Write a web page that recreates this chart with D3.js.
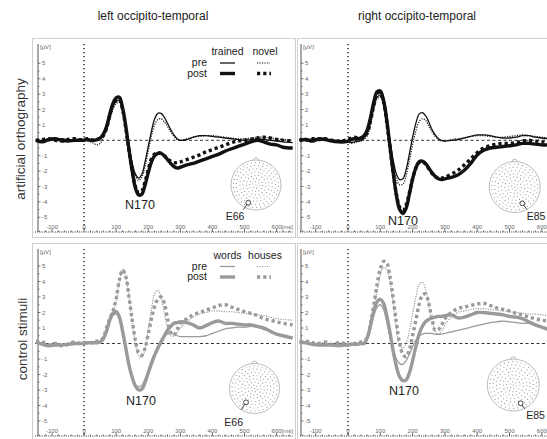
<!DOCTYPE html>
<html><head><meta charset="utf-8">
<script src="https://cdn.jsdelivr.net/npm/d3@7"></script>
<style>body{margin:0;background:#fff}svg{display:block;font-family:"Liberation Sans",Arial,Helvetica,sans-serif}</style>
</head><body><svg id="c" width="547" height="439"></svg>
<script>
// ---------------- DATA ----------------
const timesMs = [-150,-130,-110,-90,-70,-50,-30,-10,0,10,20,30,40,50,
  60,70,80,90,100,110,120,130,140,150,160,170,180,190,200,210,220,230,240,250,260,270,280,290,300,
  320,340,360,380,400,420,440,460,480,500,520,540,560,580,600,620,650];

const columnTitles = ["left occipito-temporal","right occipito-temporal"];
const rowTitles = ["artificial orthography","control stimuli"];
const yTickValues = [-5,-4,-3,-2,-1,1,2,3,4,5];
const xTickValues = [-100,0,100,200,300,400,500,600];
const legendColsTop = ["trained","novel"];
const legendColsBottom = ["words","houses"];
const legendRows = ["pre","post"];
const electrodes = ["E66","E85","E66","E85"];
const componentLabel = "N170";

// top-left: artificial orthography, left
const tlTrainedPre = [0,-0.05,0.1,0.05,0.1,0,-0.05,0.1,0,0,0.05,0,0,0.1,
  0.35,0.8,1.5,2.2,2.55,2.6,2.0,0.9,-0.4,-1.5,-2.2,-2.45,-2.2,-1.4,-0.4,0.6,1.4,1.75,1.75,1.5,1.1,0.7,0.35,0.1,0,
  0.05,0.2,0.3,0.3,0.25,0.2,0.15,0.1,0.05,0,0.05,0.1,0.05,0,-0.05,-0.1,-0.15];
const tlTrainedPost = [0,-0.1,0.05,0.1,0,-0.05,0,0,0,0.05,0,0,0.05,0.15,
  0.4,0.9,1.7,2.4,2.75,2.8,2.1,0.9,-0.6,-2.0,-3.1,-3.55,-3.5,-2.9,-2.1,-1.4,-1.0,-0.85,-0.85,-1.0,-1.25,-1.5,-1.7,-1.8,-1.75,
  -1.6,-1.5,-1.35,-1.2,-1.05,-0.9,-0.7,-0.55,-0.4,-0.25,-0.1,0,-0.1,-0.25,-0.3,-0.45,-0.5];
const tlNovelPre = [0.05,0,-0.05,0.05,0.1,0.05,0,0,0.05,-0.05,-0.1,-0.2,-0.3,-0.2,
  0.2,0.6,1.3,2.0,2.4,2.45,1.9,0.9,-0.3,-1.5,-2.3,-2.6,-2.4,-1.7,-0.7,0.3,1.0,1.35,1.4,1.2,0.9,0.55,0.25,0.05,0,
  0.1,0.2,0.25,0.3,0.3,0.25,0.2,0.15,0.1,0.1,0.15,0.2,0.2,0.15,0.1,0.05,0];
const tlNovelPost = [0,0.05,0.1,0,-0.05,0.05,0.1,0,0.05,0.1,0.05,0,0.05,0.1,
  0.3,0.8,1.6,2.3,2.6,2.65,2.0,0.8,-0.7,-2.0,-3.0,-3.4,-3.3,-2.7,-1.9,-1.2,-0.9,-0.8,-0.85,-1.0,-1.2,-1.35,-1.45,-1.45,-1.4,
  -1.25,-1.1,-0.95,-0.75,-0.6,-0.45,-0.3,-0.15,-0.05,0,0.05,0.15,0.2,0.15,0.05,0,-0.05];

// top-right: artificial orthography, right
const trTrainedPre = [0.05,0,0.1,0.05,0,0.05,-0.05,0,-0.1,-0.15,-0.1,-0.05,0,0.15,
  0.5,1.3,2.2,2.8,2.9,2.4,1.3,0,-1.3,-2.2,-2.55,-2.5,-1.9,-0.9,0.2,1.1,1.7,1.8,1.6,1.2,0.7,0.35,0.1,0,-0.05,
  0,0.05,0.15,0.25,0.35,0.35,0.3,0.2,0.15,0.15,0.2,0.3,0.3,0.2,0.15,0.1,0.05];
const trTrainedPost = [0,0.05,-0.05,0.1,0.05,-0.05,-0.1,-0.1,-0.05,0.05,0.1,0.1,0.15,0.3,
  0.7,1.5,2.5,3.15,3.2,2.6,1.3,-0.4,-2.1,-3.6,-4.5,-4.75,-4.4,-3.5,-2.5,-1.8,-1.4,-1.35,-1.5,-1.8,-2.1,-2.35,-2.5,-2.55,-2.5,
  -2.4,-2.25,-1.95,-1.5,-0.95,-0.65,-0.5,-0.45,-0.4,-0.35,-0.3,-0.2,-0.2,-0.25,-0.3,-0.3,-0.35];
const trNovelPre = [0,0.05,0,0.1,0.05,0,0,-0.05,-0.1,-0.2,-0.15,-0.1,-0.05,0.05,
  0.3,1.0,2.0,2.65,2.8,2.35,1.2,-0.2,-1.6,-2.5,-2.9,-2.85,-2.3,-1.3,-0.3,0.6,1.2,1.4,1.3,0.95,0.55,0.25,0.05,-0.05,-0.05,
  0.05,0.1,0.15,0.25,0.3,0.3,0.25,0.2,0.2,0.25,0.3,0.35,0.3,0.25,0.2,0.15,0.1];
const trNovelPost = [0.05,0,0.1,0.05,0.1,0,-0.05,0,0.05,0.15,0.2,0.15,0.15,0.25,
  0.5,1.3,2.3,3.0,3.1,2.5,1.2,-0.5,-2.1,-3.5,-4.35,-4.55,-4.2,-3.4,-2.5,-1.8,-1.45,-1.4,-1.55,-1.85,-2.15,-2.35,-2.45,-2.45,-2.4,
  -2.2,-1.95,-1.6,-1.2,-0.8,-0.5,-0.35,-0.25,-0.2,-0.2,-0.15,-0.05,0,-0.05,-0.1,-0.15,-0.2];

// bottom-left: control stimuli, left
const blWordsPre = [0.05,0,-0.1,-0.05,-0.1,0,-0.05,0.05,0,0,0.05,0,0.05,0.1,
  0.3,0.8,1.4,1.8,1.9,1.6,0.7,-0.4,-1.4,-2.2,-2.65,-2.8,-2.7,-2.3,-1.7,-1.1,-0.6,-0.15,0.2,0.45,0.6,0.65,0.6,0.5,0.45,
  0.45,0.45,0.45,0.5,0.65,0.8,0.95,1.0,1.05,1.05,1.1,1.05,0.9,0.8,0.65,0.5,0.4];
const blWordsPost = [0.1,-0.05,-0.15,-0.1,-0.1,-0.05,0,0,0,0.05,0.05,0.05,0.05,0.1,
  0.3,0.8,1.5,1.95,2.05,1.7,0.8,-0.3,-1.4,-2.2,-2.75,-3.0,-2.95,-2.5,-1.9,-1.3,-0.75,-0.3,0.1,0.5,0.85,1.1,1.3,1.35,1.4,
  1.35,1.2,1.0,1.15,1.35,1.45,1.3,1.3,1.25,1.2,1.2,1.1,1.0,0.8,0.6,0.5,0.35];
const blHousesPre = [0.1,0,-0.05,0.05,-0.1,0,0.05,0.05,0,0.05,0.1,0.05,0.1,0.15,
  0.3,0.9,1.5,2.0,2.8,4.0,4.8,4.3,3.0,1.4,0.0,-0.8,-0.9,-0.3,0.9,2.2,3.2,3.45,3.0,2.0,1.0,0.5,0.5,0.7,1.0,
  1.4,1.7,1.9,2.0,2.1,2.1,2.05,2.05,2.0,1.95,1.9,1.85,1.8,1.7,1.6,1.55,1.5];
const blHousesPost = [0.15,0.1,-0.1,0,-0.15,-0.05,0.1,0,0.05,0.1,0.05,0.1,0.15,0.2,
  0.4,1.0,1.6,2.1,2.9,4.1,4.75,4.3,3.0,1.5,0.2,-0.6,-0.75,-0.3,0.6,1.6,2.4,2.85,3.0,2.6,1.6,0.7,0.55,0.9,1.3,
  1.6,1.85,2.0,2.15,2.3,2.45,2.5,2.35,2.2,2.05,1.95,1.8,1.6,1.5,1.4,1.3,1.2];

// bottom-right: control stimuli, right
const brWordsPre = [0.05,0,-0.05,-0.1,-0.05,-0.1,-0.1,-0.05,-0.1,-0.05,0,-0.05,0,0.05,
  0.3,1.0,1.8,2.35,2.5,2.2,1.4,0.5,-0.4,-1.0,-1.3,-1.35,-1.1,-0.7,-0.2,0.2,0.45,0.6,0.65,0.65,0.65,0.6,0.6,0.6,0.65,
  0.75,0.85,0.95,1.05,1.15,1.25,1.35,1.4,1.45,1.4,1.35,1.3,1.3,1.2,1.1,1.0,0.9];
const brWordsPost = [0.1,0.05,-0.05,-0.1,-0.1,-0.1,-0.15,-0.1,-0.1,-0.05,-0.05,-0.05,0,0,
  0.4,1.2,2.1,2.7,2.85,2.6,1.8,0.7,-0.5,-1.5,-2.15,-2.4,-2.35,-1.9,-1.1,-0.2,0.6,1.1,1.4,1.55,1.65,1.7,1.75,1.75,1.8,
  1.85,1.65,1.7,1.85,2.0,2.0,1.95,1.9,1.85,1.75,1.7,1.6,1.4,1.2,1.05,0.9,0.7];
const brHousesPre = [0.05,0.1,0,0.05,0.05,-0.05,0,0.05,-0.05,0,0.05,0.05,0.1,0.1,
  0.3,1.1,2.2,3.4,4.4,4.9,4.8,4.0,2.6,1.0,-0.1,-0.3,0.0,0.8,1.9,3.0,3.8,3.95,3.5,2.5,1.5,0.8,0.6,0.8,1.2,
  1.7,2.0,2.1,2.2,2.25,2.25,2.2,2.15,2.1,2.05,2.0,1.95,1.9,1.9,1.85,1.8,1.75];
const brHousesPost = [0.1,0.15,0.05,0,0.1,-0.05,0.05,0,-0.1,0.05,0,0.05,0.1,0.15,
  0.4,1.3,2.5,3.8,4.8,5.3,5.2,4.3,2.9,1.3,0.0,-0.7,-0.85,-0.4,0.5,1.5,2.5,3.1,3.2,2.6,1.6,0.85,0.9,1.2,1.6,
  2.0,2.25,2.35,2.45,2.55,2.6,2.45,2.3,2.2,2.1,1.95,1.85,1.7,1.6,1.5,1.45,1.4];

// ---------------- LAYOUT / STYLE ----------------
const svg = d3.select("#c");
const styles = {
  pre:      {w:1.3, dash:null},
  post:     {w:3.4, dash:null},
  preDot:   {w:1.2, dash:"1.2,1.3"},
  postDot:  {w:3.4, dash:"3.2,3"}
};
const panels = [
  {box:[32,38,263,199], xr:[52,276.6], yr:[217.3,63.3], axisY:232, yAxisX:38, yTop:44, color:"#111",
   series:[[tlTrainedPre,"pre"],[tlNovelPre,"preDot"],[tlNovelPost,"postDot"],[tlTrainedPost,"post"]],
   head:{cx:256,cy:185,r:25,mx:248.3,my:202.7,ex:243.5,ey:209.5,lx:235,ly:216.5}, n170:[140,205], el:0, legend:legendColsTop, lg:[51,63,73.5]},
  {box:[297,38,300,199], xr:[315.7,541.8], yr:[217.3,63.3], axisY:232, yAxisX:301, yTop:44, color:"#111",
   series:[[trTrainedPre,"pre"],[trNovelPre,"preDot"],[trNovelPost,"postDot"],[trTrainedPost,"post"]],
   head:{cx:514.7,cy:187,r:25.5,mx:522.3,my:203.3,ex:527,ey:209.5,lx:536,ly:216}, n170:[403,221], el:1},
  {box:[32,243,263,205], xr:[52,276.6], yr:[421,266], axisY:436, yAxisX:38, yTop:249, color:"#9a9a9a",
   series:[[blWordsPre,"pre"],[blHousesPre,"preDot"],[blHousesPost,"postDot"],[blWordsPost,"post"]],
   head:{cx:254.5,cy:388.5,r:25,mx:246,my:402.3,ex:241,ey:410,lx:233.7,ly:422.5}, n170:[141,401], el:2, legend:legendColsBottom, lg:[255,266.5,277]},
  {box:[297,243,300,205], xr:[315.7,541.8], yr:[421,266], axisY:436, yAxisX:301, yTop:249, color:"#9a9a9a",
   series:[[brWordsPre,"pre"],[brHousesPre,"preDot"],[brHousesPost,"postDot"],[brWordsPost,"post"]],
   head:{cx:513.3,cy:385,r:26,mx:520.7,my:403.3,ex:525,ey:409,lx:535.5,ly:415}, n170:[404,391], el:3}
];

// titles
svg.append("text").attr("x",153).attr("y",20).attr("text-anchor","middle").attr("font-size",12).attr("fill","#222").text(columnTitles[0]);
svg.append("text").attr("x",417).attr("y",20).attr("text-anchor","middle").attr("font-size",12).attr("fill","#222").text(columnTitles[1]);
svg.append("text").attr("transform","translate(25,139) rotate(-90)").attr("text-anchor","middle").attr("font-size",13.5).attr("fill","#333").text(rowTitles[0]);
svg.append("text").attr("transform","translate(26.5,339) rotate(-90)").attr("text-anchor","middle").attr("font-size",13.5).attr("fill","#333").text(rowTitles[1]);

const defs = svg.append("defs");

panels.forEach((p,i)=>{
  const [bx,by,bw,bh] = p.box;
  const g = svg.append("g");
  g.append("rect").attr("x",bx+0.5).attr("y",by+0.5).attr("width",bw).attr("height",bh)
    .attr("fill","#fff").attr("stroke","#cfcfcf").attr("stroke-width",1);
  const x = d3.scaleLinear().domain([-100,600]).range(p.xr);
  const y = d3.scaleLinear().domain([-5,5]).range(p.yr);
  defs.append("clipPath").attr("id","clip"+i).append("rect").attr("x",bx+1).attr("y",by+1).attr("width",bw-2).attr("height",bh-2);

  // y axis
  g.append("line").attr("x1",p.yAxisX).attr("x2",p.yAxisX).attr("y1",p.yTop).attr("y2",p.axisY)
    .attr("stroke","#555").attr("stroke-width",1);
  d3.range(-10,11).forEach(k=>{
    const v=k/2; const yy=y(v);
    g.append("line").attr("x1",p.yAxisX).attr("x2",p.yAxisX+(k%2===0?2.5:1.5)).attr("y1",yy).attr("y2",yy).attr("stroke","#555").attr("stroke-width",0.8);
  });
  g.selectAll(null).data(yTickValues).join("text").attr("x",p.yAxisX+4).attr("y",d=>y(d)).attr("dy","0.35em")
    .attr("font-size",6).attr("fill","#666").text(d=>d);
  g.append("text").attr("x",p.yAxisX+2).attr("y",p.yTop+5).attr("font-size",6).attr("fill","#666").text("[\u00b5V]");

  // x axis
  const x0 = bx+3, x1 = Math.min(bx+bw-2, 547);
  g.append("line").attr("x1",x0).attr("x2",x1).attr("y1",p.axisY).attr("y2",p.axisY)
    .attr("stroke","#333").attr("stroke-width",1.2).attr("stroke-dasharray","1,1.2");
  d3.range(-140,660,20).forEach(t=>{
    const xx=x(t); if(xx<x0||xx>x1) return;
    g.append("line").attr("x1",xx).attr("x2",xx).attr("y1",p.axisY).attr("y2",p.axisY-(t%100===0?3:1.5)).attr("stroke","#444").attr("stroke-width",0.8);
  });
  g.selectAll(null).data(xTickValues).join("text")
    .attr("x",d=>d===600?x(d)-5:x(d)).attr("y",p.axisY-3.5)
    .attr("text-anchor",d=>d===600?"start":"middle")
    .attr("font-size",6).attr("fill","#666").text(d=>d===600?"600[ms]":d);

  // zero lines
  g.append("line").attr("x1",bx+3).attr("x2",x1).attr("y1",y(0)).attr("y2",y(0))
    .attr("stroke","#333").attr("stroke-width",1).attr("stroke-dasharray","3,2.5");
  g.append("line").attr("x1",x(0)).attr("x2",x(0)).attr("y1",p.yTop).attr("y2",p.axisY)
    .attr("stroke","#333").attr("stroke-width",1.5).attr("stroke-dasharray","1.2,2.8");

  // head map
  const h=p.head;
  const hg=g.append("g");
  hg.append("circle").attr("cx",h.cx).attr("cy",h.cy).attr("r",h.r).attr("fill","#fff").attr("stroke","#aaa").attr("stroke-width",0.8);
  hg.append("path").attr("d",`M${h.cx-2.5},${h.cy-h.r+0.2} A2.5,2.5 0 0 1 ${h.cx+2.5},${h.cy-h.r+0.2}`).attr("fill","none").attr("stroke","#aaa").attr("stroke-width",0.8);
  const rings=[[0,1],[0.13,6],[0.26,12],[0.39,17],[0.52,22],[0.65,27],[0.78,31],[0.9,34]];
  rings.forEach(([rf,n],ri)=>{
    for(let k=0;k<n;k++){
      const a=2*Math.PI*k/n + ri*0.3;
      hg.append("circle").attr("cx",h.cx+Math.cos(a)*rf*h.r).attr("cy",h.cy+Math.sin(a)*rf*h.r).attr("r",0.55).attr("fill","#888");
    }
  });
  hg.append("line").attr("x1",h.mx).attr("y1",h.my).attr("x2",h.ex).attr("y2",h.ey).attr("stroke","#333").attr("stroke-width",0.9);
  hg.append("circle").attr("cx",h.mx).attr("cy",h.my).attr("r",2.4).attr("fill","#fff").attr("stroke","#333").attr("stroke-width",0.9);
  hg.append("text").attr("x",h.lx).attr("y",h.ly).attr("dy","0.35em").attr("text-anchor","middle").attr("font-size",10.5).attr("fill","#222").text(electrodes[p.el]);

  // curves
  const line = d3.line().x(d=>x(d[0])).y(d=>y(d[1])).curve(d3.curveCatmullRom.alpha(0.5));
  const cg = g.append("g").attr("clip-path",`url(#clip${i})`);
  p.series.forEach(([vals,st])=>{
    const s=styles[st];
    cg.append("path").datum(timesMs.map((t,k)=>[t,vals[k]])).attr("d",line)
      .attr("fill","none").attr("stroke",p.color).attr("stroke-width",s.w)
      .attr("stroke-dasharray",s.dash).attr("stroke-linejoin","round");
  });

  // N170
  g.append("text").attr("x",p.n170[0]).attr("y",p.n170[1]).attr("dy","0.35em").attr("text-anchor","middle")
    .attr("font-size",12.5).attr("fill","#222").text(componentLabel);

  // legend
  if(p.legend){
    const [yh,yp,yq]=p.lg;
    g.append("text").attr("x",227.5).attr("y",yh).attr("dy","0.35em").attr("text-anchor","middle").attr("font-size",10.5).attr("fill","#222").text(p.legend[0]);
    g.append("text").attr("x",265).attr("y",yh).attr("dy","0.35em").attr("text-anchor","middle").attr("font-size",10.5).attr("fill","#222").text(p.legend[1]);
    g.append("text").attr("x",207).attr("y",yp).attr("dy","0.3em").attr("text-anchor","end").attr("font-size",10.5).attr("fill","#222").text(legendRows[0]);
    g.append("text").attr("x",207).attr("y",yq).attr("dy","0.3em").attr("text-anchor","end").attr("font-size",10.5).attr("fill","#222").text(legendRows[1]);
    const items=[["pre",220,235,yp],["post",220,235,yq],["preDot",257,270,yp],["postDot",257,271,yq]];
    items.forEach(([st,a,b,yy])=>{
      const s=styles[st];
      g.append("line").attr("x1",a).attr("x2",b).attr("y1",yy).attr("y2",yy).attr("stroke",p.color)
        .attr("stroke-width",s.w).attr("stroke-dasharray",s.dash);
    });
  }
});
</script></body></html>
